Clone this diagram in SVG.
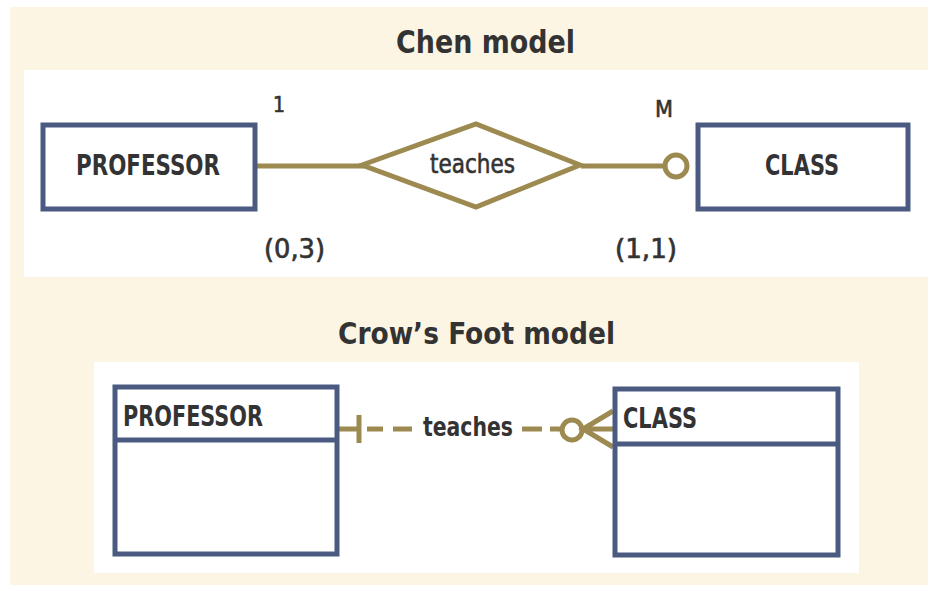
<svg xmlns="http://www.w3.org/2000/svg" width="935" height="591" viewBox="0 0 935 591">
<style>
.t{font-family:"DejaVu Sans Condensed","Liberation Sans Narrow","Liberation Sans",sans-serif;font-weight:bold;fill:#333333}
.n{font-family:"DejaVu Sans Condensed","Liberation Sans Narrow","Liberation Sans",sans-serif;font-weight:normal;fill:#333333;stroke:#333333;stroke-width:0.6}
.box{fill:#fff;stroke:#4b5a80;stroke-width:5}
.div{stroke:#4b5a80;stroke-width:5}
.rel{fill:none;stroke:#9c8a50;stroke-width:5}
</style>
<rect x="0" y="0" width="935" height="591" fill="#ffffff"/>
<rect x="10" y="7" width="918" height="578" fill="#fcf5e3"/>
<rect x="24" y="70" width="904" height="207" fill="#ffffff"/>
<rect x="94" y="362" width="765" height="211" fill="#ffffff"/>

<text class="t" x="396" y="53" font-size="32" textLength="179" lengthAdjust="spacingAndGlyphs">Chen model</text>
<text class="t" x="338" y="344" font-size="31" textLength="277" lengthAdjust="spacingAndGlyphs">Crow’s Foot model</text>

<g id="connectors">
  <line class="rel" x1="256" y1="166" x2="364" y2="166"/>
  <line class="rel" x1="581" y1="166" x2="665" y2="166"/>
  <line class="rel" x1="338" y1="429" x2="359" y2="429"/>
  <line class="rel" x1="359" y1="415" x2="359" y2="443"/>
  <line class="rel" x1="367" y1="429" x2="383" y2="429"/>
  <line class="rel" x1="393" y1="429" x2="412" y2="429"/>
  <line class="rel" x1="522" y1="429" x2="542" y2="429"/>
  <line class="rel" x1="550" y1="429" x2="562" y2="429"/>
  <circle class="rel" cx="572" cy="430" r="10"/>
  <path class="rel" d="M613 411 L583 429 L613 447 M583 429 L613 429"/>
  <text class="t" x="423" y="436" font-size="27" textLength="90" lengthAdjust="spacingAndGlyphs">teaches</text>
</g>

<g id="chen-professor">
  <rect class="box" x="43" y="125" width="212" height="84"/>
  <text class="t" x="76" y="175" font-size="29" textLength="144" lengthAdjust="spacingAndGlyphs">PROFESSOR</text>
  <text class="n" x="273" y="112" font-size="21">1</text>
  <text class="n" x="264" y="258" font-size="26" textLength="61" lengthAdjust="spacingAndGlyphs">(0,3)</text>
</g>

<g id="chen-teaches">
  <polygon class="rel" points="362,165 476,124 580,165 476,207" fill="#fff"/>
  <text class="n" x="430" y="173" font-size="27" textLength="85" lengthAdjust="spacingAndGlyphs">teaches</text>
</g>

<g id="chen-class">
  <circle class="rel" cx="676" cy="166" r="11" fill="#fff"/>
  <rect class="box" x="698" y="125" width="210" height="84"/>
  <text class="t" x="765" y="175" font-size="29" textLength="74" lengthAdjust="spacingAndGlyphs">CLASS</text>
  <text class="n" x="655" y="117" font-size="23" textLength="18" lengthAdjust="spacingAndGlyphs">M</text>
  <text class="n" x="615" y="258" font-size="26" textLength="62" lengthAdjust="spacingAndGlyphs">(1,1)</text>
</g>

<g id="crow-professor">
  <rect class="box" x="115" y="387" width="222" height="167"/>
  <line class="div" x1="115" y1="440" x2="337" y2="440"/>
  <text class="t" x="123" y="426" font-size="29" textLength="140" lengthAdjust="spacingAndGlyphs">PROFESSOR</text>
</g>

<g id="crow-class">
  <rect class="box" x="615" y="389" width="223" height="166"/>
  <line class="div" x1="615" y1="444" x2="838" y2="444"/>
  <text class="t" x="623" y="428" font-size="29" textLength="74" lengthAdjust="spacingAndGlyphs">CLASS</text>
</g>
</svg>
